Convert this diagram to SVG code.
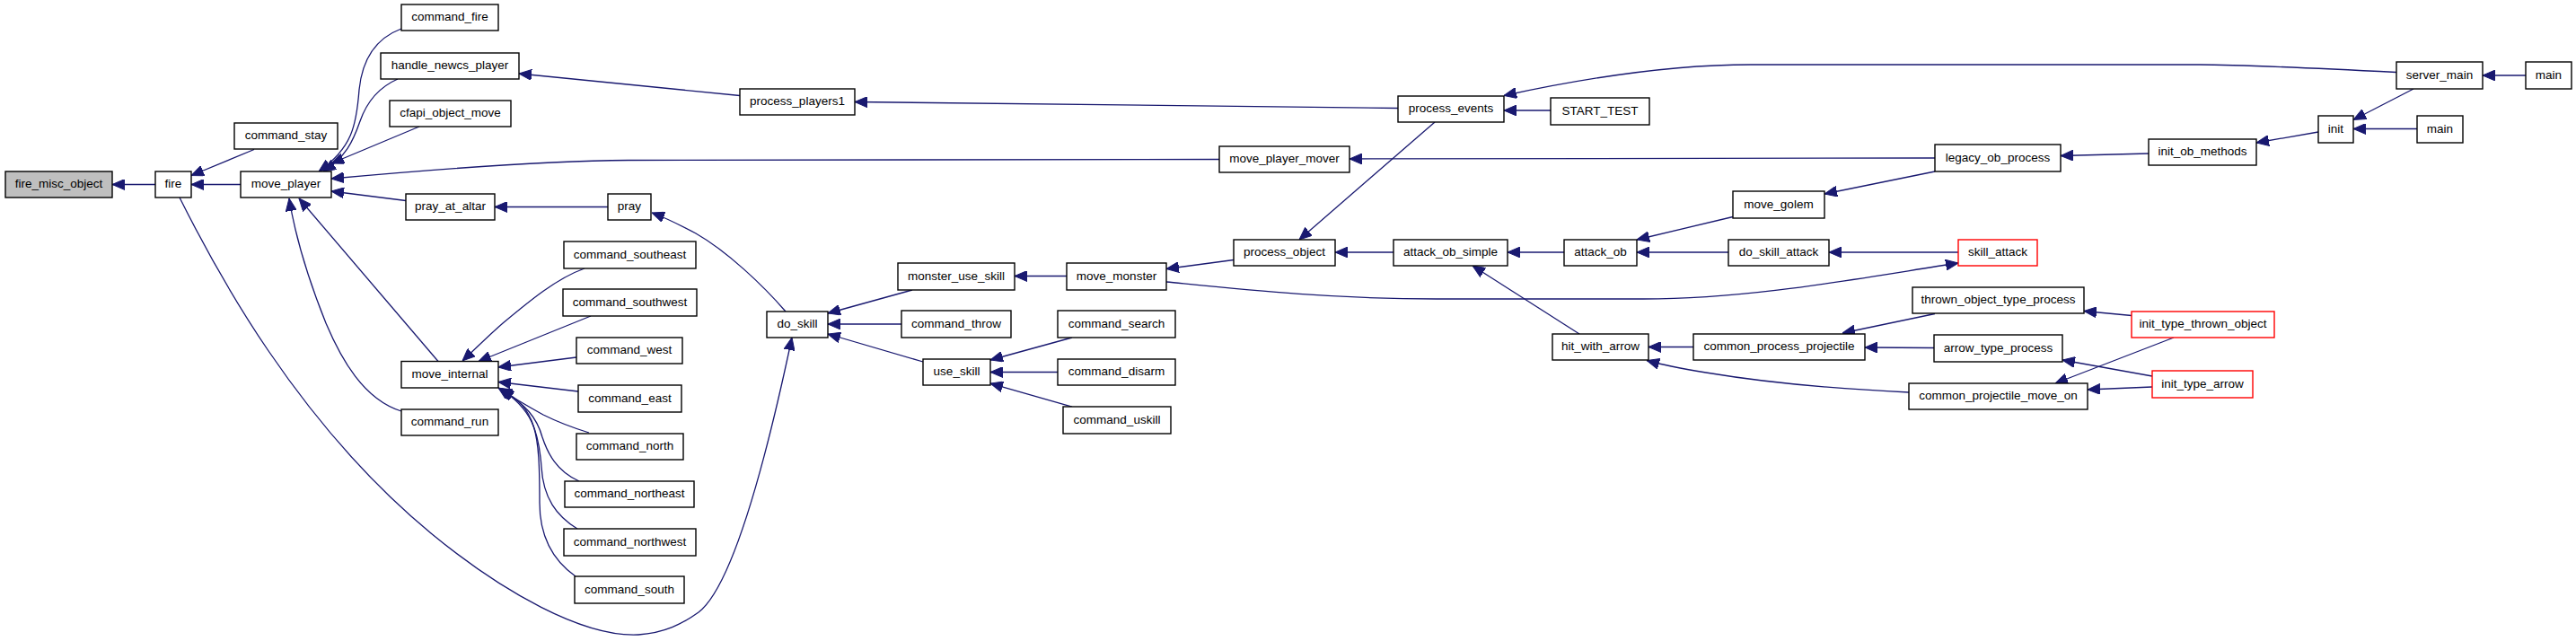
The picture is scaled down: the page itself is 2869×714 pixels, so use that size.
<svg xmlns="http://www.w3.org/2000/svg" width="2869" height="714" viewBox="0 0 2869 714">
<style>
.n rect{fill:#fff;stroke:#000;stroke-width:1.4}
.n.red rect{stroke:#ff0000}
.n.cur rect{fill:#bfbfbf}
.n text{font-family:"Liberation Sans",Arial,sans-serif;font-size:13.5px;text-anchor:middle;fill:#000}
.e path{fill:none;stroke:#191970;stroke-width:1.3;marker-end:url(#a)}
</style>
<defs>
<marker id="a" markerUnits="userSpaceOnUse" markerWidth="14" markerHeight="12" refX="14" refY="6" orient="auto">
<path d="M0,0 L14,6 L0,12 z" fill="#191970" stroke="#191970" stroke-width="1"/>
</marker>
</defs>
<rect width="2869" height="714" fill="#fff"/>
<g id="edges" class="e">
<path d="M173,205.5 L125,205.5"/>
<path d="M283,166.5 L213,195.5"/>
<path d="M268,205.5 L213,205.5"/>
<path d="M447,32 C415,44 403,70 400,100 C397,140 392,165 355,191"/>
<path d="M443,88 C420,98 408,115 401,135 C393,158 385,175 360,191"/>
<path d="M467,141 L369,182"/>
<path d="M1358,177.5 L700,178.5 C620,179 500,187 369,199"/>
<path d="M452,223.5 L369,213"/>
<path d="M488,402.5 L333,221"/>
<path d="M447,458 C405,445 380,400 363,360 C345,315 330,270 322,221"/>
<path d="M200,220 C240,300 330,470 480,594 C560,660 650,710 711,707 C740,705 760,695 778,682 C820,650 860,480 882,376"/>
<path d="M651,299 C620,310 590,335 560,360 C545,373 530,388 515,402"/>
<path d="M658,352 L533,402.5"/>
<path d="M642,398 L555,409"/>
<path d="M644,436 L555,425.5"/>
<path d="M656,482 C630,474 617,468 605,462 C585,451 570,442 555,432"/>
<path d="M645,536 C620,525 610,505 604,487 C598,465 585,450 558,434"/>
<path d="M643,589 C620,575 605,555 603,520 C600,480 592,455 557,433"/>
<path d="M641,642 C610,620 601,590 601,560 C601,480 598,455 556,432.5"/>
<path d="M677,230.5 L551,230.5"/>
<path d="M875,347 C850,318 810,280 775,260 C760,252 745,244 726,237"/>
<path d="M824,106.5 L578,82"/>
<path d="M1557,120.5 L952,113.5"/>
<path d="M1016,323 L922,349"/>
<path d="M1004,361 L922,361"/>
<path d="M1028,403 L922,372"/>
<path d="M1188,307.5 L1130,307.5"/>
<path d="M1194,376 L1103,401"/>
<path d="M1178,414.5 L1103,414.5"/>
<path d="M1194,453 L1103,427"/>
<path d="M1374,289.5 L1299,299.5"/>
<path d="M1299,314 C1380,322 1480,333 1600,333 L1830,333 C1950,333 2070,310 2181,293"/>
<path d="M1598,136 L1447,267"/>
<path d="M1552,281 L1487,281"/>
<path d="M1742,281 L1679,281"/>
<path d="M1759,372 L1640,296"/>
<path d="M1930,241.5 L1823,267"/>
<path d="M1925,281 L1823,281"/>
<path d="M2181,281 L2037,281"/>
<path d="M2155,176 L1503,177"/>
<path d="M2155,191 L2032,216"/>
<path d="M2393,171 L2295,173.5"/>
<path d="M2669,80.5 C2580,76 2500,72 2450,72 L1950,72 C1860,72 1760,88 1675,106.5"/>
<path d="M1727,123 L1675,123"/>
<path d="M2813,84 L2765,84"/>
<path d="M2688,99 L2621,133.5"/>
<path d="M2692,143.5 L2621,143.5"/>
<path d="M2582,147 L2513,159"/>
<path d="M2155,349.5 L2052,371"/>
<path d="M2154,387.5 L2077,387"/>
<path d="M1886,386.5 L1836,386.5"/>
<path d="M2126,437 C2040,433 1960,425 1900,415 C1870,410 1850,406 1834,401.5"/>
<path d="M2374,351.5 L2321,346.5"/>
<path d="M2397,419 L2297,401"/>
<path d="M2421,376 L2289,427"/>
<path d="M2397,431 L2325,434"/>
</g>
<g id="fire_misc_object" class="n cur"><rect x="6" y="191" width="119" height="29"/><text x="65.5" y="209">fire_misc_object</text></g>
<g id="fire" class="n"><rect x="173" y="191" width="40" height="29"/><text x="193" y="209">fire</text></g>
<g id="command_stay" class="n"><rect x="261" y="137" width="115" height="29"/><text x="318.5" y="155">command_stay</text></g>
<g id="move_player" class="n"><rect x="268" y="191" width="101" height="29"/><text x="318.5" y="209">move_player</text></g>
<g id="command_fire" class="n"><rect x="447" y="5" width="108" height="29"/><text x="501" y="23">command_fire</text></g>
<g id="handle_newcs_player" class="n"><rect x="424" y="59" width="154" height="29"/><text x="501" y="77">handle_newcs_player</text></g>
<g id="cfapi_object_move" class="n"><rect x="434" y="112" width="135" height="29"/><text x="501.5" y="130">cfapi_object_move</text></g>
<g id="pray_at_altar" class="n"><rect x="452" y="216" width="99" height="29"/><text x="501.5" y="234">pray_at_altar</text></g>
<g id="move_internal" class="n"><rect x="447" y="402.5" width="108" height="29.5"/><text x="501" y="420.5">move_internal</text></g>
<g id="command_run" class="n"><rect x="447" y="456" width="108" height="29"/><text x="501" y="474">command_run</text></g>
<g id="process_players1" class="n"><rect x="824" y="99" width="128" height="29"/><text x="888" y="117">process_players1</text></g>
<g id="pray" class="n"><rect x="677" y="216" width="48" height="29"/><text x="701" y="234">pray</text></g>
<g id="command_southeast" class="n"><rect x="628" y="269" width="147" height="30"/><text x="701.5" y="287.5">command_southeast</text></g>
<g id="command_southwest" class="n"><rect x="627" y="322" width="149" height="30"/><text x="701.5" y="340.5">command_southwest</text></g>
<g id="do_skill" class="n"><rect x="854" y="347" width="68" height="29"/><text x="888" y="365">do_skill</text></g>
<g id="command_west" class="n"><rect x="642" y="376" width="118" height="29"/><text x="701" y="394">command_west</text></g>
<g id="command_east" class="n"><rect x="644" y="429" width="115" height="30"/><text x="701.5" y="447.5">command_east</text></g>
<g id="command_north" class="n"><rect x="642" y="483" width="119" height="29"/><text x="701.5" y="501">command_north</text></g>
<g id="command_northeast" class="n"><rect x="629" y="536" width="144" height="29"/><text x="701" y="554">command_northeast</text></g>
<g id="command_northwest" class="n"><rect x="628" y="589" width="147" height="30"/><text x="701.5" y="607.5">command_northwest</text></g>
<g id="command_south" class="n"><rect x="640" y="642" width="122" height="30"/><text x="701" y="660.5">command_south</text></g>
<g id="monster_use_skill" class="n"><rect x="1000" y="293" width="130" height="30"/><text x="1065" y="311.5">monster_use_skill</text></g>
<g id="move_monster" class="n"><rect x="1188" y="293" width="111" height="30"/><text x="1243.5" y="311.5">move_monster</text></g>
<g id="process_object" class="n"><rect x="1374" y="267" width="113" height="29"/><text x="1430.5" y="285">process_object</text></g>
<g id="command_throw" class="n"><rect x="1004" y="346" width="122" height="30"/><text x="1065" y="364.5">command_throw</text></g>
<g id="command_search" class="n"><rect x="1178" y="346" width="131" height="30"/><text x="1243.5" y="364.5">command_search</text></g>
<g id="move_player_mover" class="n"><rect x="1358" y="163" width="145" height="29"/><text x="1430.5" y="181">move_player_mover</text></g>
<g id="use_skill" class="n"><rect x="1028" y="400" width="75" height="29"/><text x="1065.5" y="418">use_skill</text></g>
<g id="command_disarm" class="n"><rect x="1178" y="400" width="131" height="29"/><text x="1243.5" y="418">command_disarm</text></g>
<g id="command_uskill" class="n"><rect x="1184" y="453" width="120" height="30"/><text x="1244" y="471.5">command_uskill</text></g>
<g id="process_events" class="n"><rect x="1557" y="107" width="118" height="29"/><text x="1616" y="125">process_events</text></g>
<g id="START_TEST" class="n"><rect x="1727" y="109" width="110" height="30"/><text x="1782" y="127.5">START_TEST</text></g>
<g id="attack_ob_simple" class="n"><rect x="1552" y="267" width="127" height="29"/><text x="1615.5" y="285">attack_ob_simple</text></g>
<g id="attack_ob" class="n"><rect x="1742" y="267" width="81" height="29"/><text x="1782.5" y="285">attack_ob</text></g>
<g id="hit_with_arrow" class="n"><rect x="1729" y="372" width="107" height="29"/><text x="1782.5" y="390">hit_with_arrow</text></g>
<g id="common_process_projectile" class="n"><rect x="1886" y="372" width="191" height="29"/><text x="1981.5" y="390">common_process_projectile</text></g>
<g id="legacy_ob_process" class="n"><rect x="2155" y="161" width="140" height="30"/><text x="2225" y="179.5">legacy_ob_process</text></g>
<g id="move_golem" class="n"><rect x="1930" y="213" width="102" height="30"/><text x="1981" y="231.5">move_golem</text></g>
<g id="do_skill_attack" class="n"><rect x="1925" y="267" width="112" height="29"/><text x="1981" y="285">do_skill_attack</text></g>
<g id="skill_attack" class="n red"><rect x="2181" y="267" width="88" height="29"/><text x="2225" y="285">skill_attack</text></g>
<g id="thrown_object_type_process" class="n"><rect x="2130" y="320" width="191" height="29"/><text x="2225.5" y="338">thrown_object_type_process</text></g>
<g id="init_type_thrown_object" class="n red"><rect x="2374" y="347" width="159" height="29"/><text x="2453.5" y="365">init_type_thrown_object</text></g>
<g id="arrow_type_process" class="n"><rect x="2154" y="373" width="143" height="30"/><text x="2225.5" y="391.5">arrow_type_process</text></g>
<g id="common_projectile_move_on" class="n"><rect x="2126" y="427" width="199" height="29"/><text x="2225.5" y="445">common_projectile_move_on</text></g>
<g id="server_main" class="n"><rect x="2669" y="69" width="96" height="30"/><text x="2717" y="87.5">server_main</text></g>
<g id="main_1" class="n"><rect x="2813" y="69" width="51" height="30"/><text x="2838.5" y="87.5">main</text></g>
<g id="init" class="n"><rect x="2582" y="129" width="39" height="30"/><text x="2601.5" y="147.5">init</text></g>
<g id="main_2" class="n"><rect x="2692" y="129" width="51" height="30"/><text x="2717.5" y="147.5">main</text></g>
<g id="init_ob_methods" class="n"><rect x="2393" y="155" width="120" height="29"/><text x="2453" y="173">init_ob_methods</text></g>
<g id="init_type_arrow" class="n red"><rect x="2397" y="413" width="112" height="30"/><text x="2453" y="431.5">init_type_arrow</text></g>
</svg>
